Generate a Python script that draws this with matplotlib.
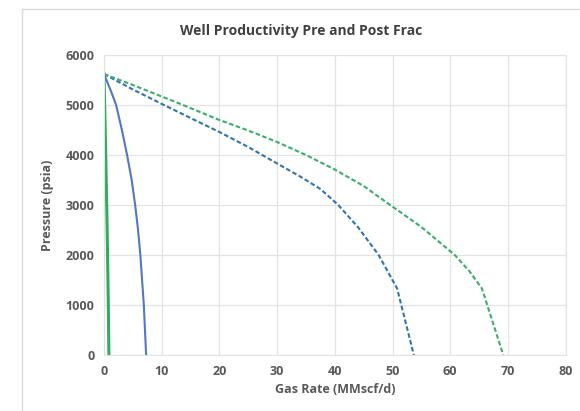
import matplotlib.pyplot as plt
from matplotlib.patches import Rectangle

# Post-frac (dashed) and pre-frac (solid) inflow curves
q_post_green = [0, 5, 10, 13.7, 20, 25, 30, 35, 40, 45, 49.6, 55, 60.8, 63.3, 65.5, 69.2]
p_post_green = [5620, 5400, 5170, 5000, 4700, 4490, 4260, 4000, 3710, 3380, 3000, 2560, 2000, 1680, 1330, 0]

q_post_blue = [0, 5, 10.4, 15, 20, 25, 30, 34, 37.5, 40.6, 44, 47.6, 50.8, 53.7]
p_post_blue = [5620, 5310, 5000, 4740, 4460, 4160, 3830, 3570, 3320, 3000, 2560, 2000, 1330, 0]

q_pre_blue = [0, 0.6, 1.3, 2.1, 3.1, 4.0, 4.8, 5.4, 5.9, 6.3, 6.6, 6.9, 7.1, 7.3]
p_pre_blue = [5620, 5450, 5250, 5000, 4500, 4000, 3500, 3000, 2500, 2000, 1500, 1000, 500, 0]

q_pre_green = [0, 0.3, 0.55, 0.75, 0.85]
p_pre_green = [5620, 4000, 2500, 1000, 0]

x_ticks = [0, 10, 20, 30, 40, 50, 60, 70, 80]
y_ticks = [0, 1000, 2000, 3000, 4000, 5000, 6000]

plt.rcParams['font.family'] = ['Open Sans', 'DejaVu Sans']

fig = plt.figure(figsize=(5.8, 4.11), dpi=100)
fig.patches.append(Rectangle((22 / 580, -0.1), 1.2, 1.1 - 9 / 411, transform=fig.transFigure,
                             fill=False, edgecolor='#D9D9D9', linewidth=1))
ax = fig.add_axes([104 / 580, 56 / 411, 461.6 / 580, 300 / 411])

ax.plot(q_pre_green, p_pre_green, color='#2EAD5C', linewidth=2.2)
ax.plot(q_pre_blue, p_pre_blue, color='#5277C6', linewidth=1.5)
ax.plot(q_post_blue, p_post_blue, color='#2E75B6', linewidth=1.5, linestyle=(0, (2.2, 1.2)))
ax.plot(q_post_green, p_post_green, color='#3AAE6A', linewidth=1.5, linestyle=(0, (2.2, 1.2)))

ax.set_xlim(0, 80)
ax.set_ylim(0, 6000)
ax.set_xticks(x_ticks)
ax.set_yticks(y_ticks)
ax.grid(True, color='#E3E3E3', linewidth=0.9)
ax.set_axisbelow(True)
for s in ax.spines.values():
    s.set_color('#E3E3E3')
ax.tick_params(length=0, colors='#595959', labelsize=9, pad=7)
for lab in ax.get_xticklabels() + ax.get_yticklabels():
    lab.set_fontweight('bold')

ax.set_xlabel('Gas Rate (MMscf/d)', fontsize=9, fontweight='bold', color='#595959', labelpad=4)
ax.set_ylabel('Pressure (psia)', fontsize=9, fontweight='bold', color='#595959', labelpad=8)
fig.text(301 / 580, 1 - 31 / 411, 'Well Productivity Pre and Post Frac', ha='center', va='center',
         fontsize=10, fontweight='bold', color='#404040')

plt.savefig('out.png')
